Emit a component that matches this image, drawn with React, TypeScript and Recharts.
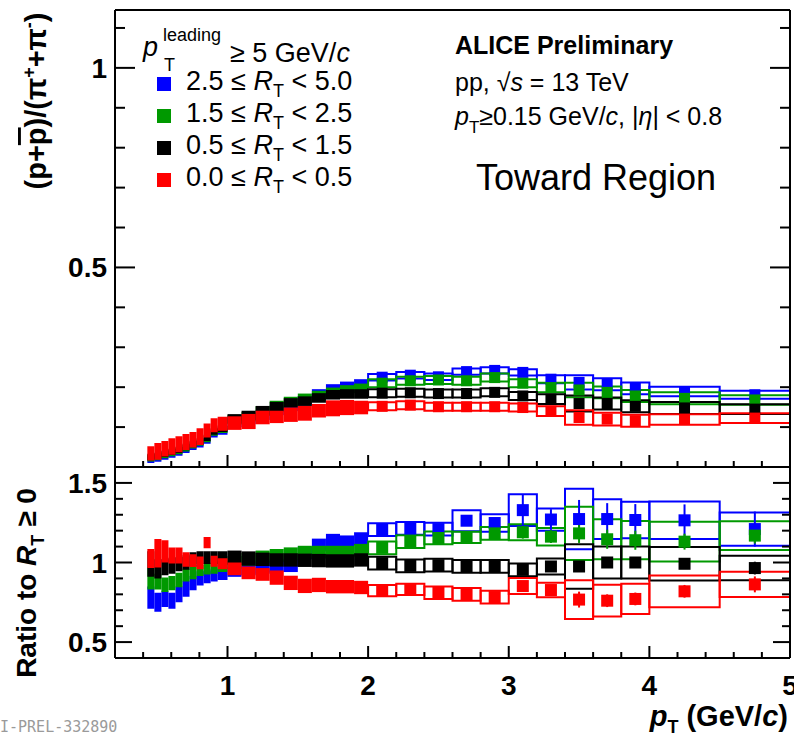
import React from "react";
import { ComposedChart, XAxis, YAxis, Scatter, ErrorBar, ReferenceArea } from "recharts";

// pT bin edges (GeV/c)
const binLow = [0.43, 0.48, 0.53, 0.58, 0.63, 0.68, 0.73, 0.78, 0.83, 0.88, 0.93, 1.0, 1.1, 1.2, 1.3, 1.4, 1.5, 1.6, 1.7, 1.8, 1.9, 2.0, 2.2, 2.4, 2.6, 2.8, 3.0, 3.2, 3.4, 3.6, 3.8, 4.0, 4.5];
const binHigh = [0.48, 0.53, 0.58, 0.63, 0.68, 0.73, 0.78, 0.83, 0.88, 0.93, 1.0, 1.1, 1.2, 1.3, 1.4, 1.5, 1.6, 1.7, 1.8, 1.9, 2.0, 2.2, 2.4, 2.6, 2.8, 3.0, 3.2, 3.4, 3.6, 3.8, 4.0, 4.5, 5.0];

// top panel: (p+pbar)/(pi+ + pi-), value and systematic half-height per bin
const topBlue = [0.018, 0.021, 0.026, 0.031, 0.036, 0.043, 0.0505, 0.057, 0.066, 0.082, 0.089, 0.112, 0.12, 0.13, 0.142, 0.152, 0.166, 0.183, 0.1955, 0.202, 0.208, 0.225, 0.23, 0.226, 0.239, 0.242, 0.237, 0.22, 0.212, 0.2075, 0.197, 0.189, 0.181];
const topBlueSys = [0.008, 0.008, 0.008, 0.008, 0.008, 0.008, 0.008, 0.008, 0.008, 0.008, 0.008, 0.012, 0.012, 0.012, 0.012, 0.012, 0.012, 0.012, 0.012, 0.012, 0.012, 0.008, 0.008, 0.008, 0.008, 0.008, 0.008, 0.01, 0.018, 0.015, 0.015, 0.012, 0.01];
const topGreen = [0.022, 0.025, 0.03, 0.035, 0.04, 0.047, 0.0545, 0.061, 0.07, 0.086, 0.093, 0.118, 0.126, 0.14, 0.154, 0.164, 0.172, 0.179, 0.187, 0.193, 0.197, 0.21, 0.216, 0.218, 0.216, 0.224, 0.21, 0.199, 0.193, 0.187, 0.178, 0.172, 0.168];
const topGreenSys = [0.008, 0.008, 0.008, 0.008, 0.008, 0.008, 0.008, 0.008, 0.008, 0.008, 0.008, 0.012, 0.012, 0.012, 0.012, 0.012, 0.012, 0.012, 0.012, 0.012, 0.012, 0.01, 0.01, 0.01, 0.01, 0.01, 0.01, 0.012, 0.018, 0.015, 0.015, 0.015, 0.012];
const topBlack = [0.025, 0.028, 0.033, 0.038, 0.043, 0.05, 0.0575, 0.064, 0.073, 0.089, 0.096, 0.1205, 0.129, 0.141, 0.151, 0.1605, 0.165, 0.173, 0.181, 0.183, 0.183, 0.185, 0.186, 0.184, 0.184, 0.187, 0.178, 0.17, 0.159, 0.159, 0.152, 0.148, 0.145];
const topBlackSys = [0.008, 0.008, 0.008, 0.008, 0.008, 0.008, 0.008, 0.008, 0.008, 0.008, 0.008, 0.012, 0.012, 0.012, 0.012, 0.012, 0.012, 0.012, 0.012, 0.012, 0.012, 0.01, 0.01, 0.01, 0.01, 0.01, 0.01, 0.012, 0.02, 0.015, 0.015, 0.015, 0.012];
const topRed = [0.034, 0.039, 0.0455, 0.0515, 0.057, 0.0625, 0.0685, 0.076, 0.0915, 0.1045, 0.1085, 0.11, 0.114, 0.124, 0.1255, 0.131, 0.1345, 0.141, 0.147, 0.149, 0.149, 0.152, 0.155, 0.151, 0.151, 0.151, 0.149, 0.14, 0.124, 0.12, 0.116, 0.119, 0.1225];
const topRedSys = [0.018, 0.021, 0.0195, 0.0205, 0.02, 0.02, 0.0195, 0.021, 0.0175, 0.0175, 0.0175, 0.017, 0.019, 0.017, 0.0155, 0.018, 0.0185, 0.017, 0.02, 0.019, 0.017, 0.01, 0.01, 0.01, 0.01, 0.01, 0.01, 0.012, 0.018, 0.016, 0.015, 0.013, 0.012];

// statistical errors, only for the bins from 2 GeV/c on (drawn with markers)
const topBlueStat = [0.002, 0.002, 0.003, 0.003, 0.004, 0.005, 0.006, 0.008, 0.009, 0.01, 0.01, 0.012];
const topGreenStat = [0.002, 0.002, 0.003, 0.003, 0.003, 0.004, 0.005, 0.006, 0.007, 0.008, 0.008, 0.009];
const topBlackStat = [0.001, 0.001, 0.002, 0.002, 0.002, 0.003, 0.003, 0.004, 0.005, 0.005, 0.005, 0.006];
const topRedStat = [0.002, 0.002, 0.002, 0.003, 0.003, 0.004, 0.004, 0.006, 0.006, 0.006, 0.006, 0.007];

// bottom panel: ratio to R_T >= 0
const ratioBlue = [0.78, 0.75, 0.77, 0.76, 0.8, 0.835, 0.87, 0.9, 0.91, 0.92, 0.93, 0.95, 0.96, 0.97, 0.98, 0.98, 1.06, 1.11, 1.14, 1.13, 1.15, 1.206, 1.214, 1.21, 1.2625, 1.248, 1.329, 1.27, 1.273, 1.273, 1.267, 1.265, 1.21];
const ratioBlueSys = [0.07, 0.06, 0.05, 0.05, 0.05, 0.05, 0.045, 0.045, 0.04, 0.04, 0.04, 0.04, 0.04, 0.04, 0.04, 0.04, 0.04, 0.04, 0.04, 0.04, 0.04, 0.04, 0.04, 0.04, 0.066, 0.055, 0.1, 0.07, 0.19, 0.125, 0.115, 0.118, 0.104];
const ratioGreen = [0.9, 0.88, 0.86, 0.87, 0.89, 0.92, 0.935, 0.95, 0.96, 0.965, 0.975, 1.0, 1.02, 1.035, 1.045, 1.055, 1.065, 1.065, 1.065, 1.065, 1.077, 1.092, 1.131, 1.154, 1.158, 1.183, 1.19, 1.1625, 1.183, 1.146, 1.14, 1.131, 1.169];
const ratioGreenSys = [0.07, 0.05, 0.045, 0.045, 0.045, 0.04, 0.04, 0.035, 0.035, 0.035, 0.035, 0.04, 0.04, 0.04, 0.04, 0.04, 0.04, 0.04, 0.04, 0.04, 0.04, 0.04, 0.04, 0.04, 0.035, 0.04, 0.05, 0.055, 0.167, 0.125, 0.12, 0.125, 0.09];
const ratioBlack = [0.99, 0.96, 0.97, 0.98, 0.99, 1.0, 1.02, 1.03, 1.03, 1.03, 1.03, 1.03, 1.025, 1.02, 1.016, 1.016, 1.014, 1.012, 1.01, 1.01, 1.016, 0.996, 0.979, 0.983, 0.975, 0.975, 0.954, 0.975, 0.975, 1.0, 1.0, 0.992, 0.965];
const ratioBlackSys = [0.08, 0.06, 0.05, 0.05, 0.045, 0.045, 0.045, 0.04, 0.04, 0.04, 0.04, 0.045, 0.045, 0.042, 0.042, 0.042, 0.042, 0.042, 0.042, 0.042, 0.042, 0.04, 0.04, 0.04, 0.04, 0.04, 0.04, 0.05, 0.14, 0.1, 0.1, 0.105, 0.077];
const ratioRed = [1.025, 1.058, 1.07, 1.044, 1.044, 1.019, 1.0125, 0.998, 1.125, 1.008, 0.992, 0.96, 0.935, 0.925, 0.905, 0.872, 0.853, 0.859, 0.848, 0.848, 0.843, 0.823, 0.831, 0.81, 0.8, 0.783, 0.852, 0.827, 0.767, 0.76, 0.771, 0.819, 0.8625];
const ratioRedSys = [0.06, 0.09, 0.07, 0.05, 0.05, 0.045, 0.04, 0.04, 0.035, 0.035, 0.035, 0.04, 0.04, 0.04, 0.045, 0.045, 0.045, 0.045, 0.042, 0.042, 0.042, 0.035, 0.035, 0.04, 0.04, 0.04, 0.05, 0.045, 0.122, 0.1, 0.095, 0.1, 0.079];

const ratioBlueStat = [0.01, 0.012, 0.015, 0.02, 0.025, 0.1, 0.065, 0.12, 0.1, 0.1, 0.1, 0.11];
const ratioGreenStat = [0.01, 0.01, 0.012, 0.015, 0.02, 0.04, 0.04, 0.06, 0.06, 0.06, 0.05, 0.05];
const ratioBlackStat = [0.005, 0.005, 0.008, 0.01, 0.01, 0.02, 0.02, 0.03, 0.03, 0.03, 0.03, 0.04];
const ratioRedStat = [0.008, 0.008, 0.01, 0.015, 0.02, 0.03, 0.03, 0.05, 0.04, 0.04, 0.04, 0.05];

// axis ticks
const xTicks = [0.2, 0.4, 0.6, 0.8, 1, 1.2, 1.4, 1.6, 1.8, 2, 2.2, 2.4, 2.6, 2.8, 3, 3.2, 3.4, 3.6, 3.8, 4, 4.2, 4.4, 4.6, 4.8, 5];
const xMajor = [1, 2, 3, 4, 5];
const topYTicks = [0, 0.1, 0.2, 0.3, 0.4, 0.5, 0.6, 0.7, 0.8, 0.9, 1, 1.1];
const topYMajor = [0.5, 1];
const botYTicks = [0.4, 0.5, 0.6, 0.7, 0.8, 0.9, 1, 1.1, 1.2, 1.3, 1.4, 1.5, 1.6];
const botYMajor = [0.5, 1, 1.5];

const FONT = '"Liberation Sans", Arial, Helvetica, sans-serif';

const series = [
  { lo: "2.5", hi: "5.0", color: "#0000ff", top: topBlue, topSys: topBlueSys, topStat: topBlueStat, ratio: ratioBlue, ratioSys: ratioBlueSys, ratioStat: ratioBlueStat },
  { lo: "1.5", hi: "2.5", color: "#009900", top: topGreen, topSys: topGreenSys, topStat: topGreenStat, ratio: ratioGreen, ratioSys: ratioGreenSys, ratioStat: ratioGreenStat },
  { lo: "0.5", hi: "1.5", color: "#000000", top: topBlack, topSys: topBlackSys, topStat: topBlackStat, ratio: ratioBlack, ratioSys: ratioBlackSys, ratioStat: ratioBlackStat },
  { lo: "0.0", hi: "0.5", color: "#ff0000", top: topRed, topSys: topRedSys, topStat: topRedStat, ratio: ratioRed, ratioSys: ratioRedSys, ratioStat: ratioRedStat },
];

// ROOT style ticks: drawn inward from the frame
function AxisTick(props: any) {
  const { x = 0, y = 0, payload, side, majors, majorLen, minorLen, showLabel } = props;
  const v = payload ? payload.value : 0;
  const isMajor = majors.some((m: number) => Math.abs(m - v) < 1e-6);
  const len = isMajor ? majorLen : minorLen;
  const dir: Record<string, number[]> = { bottom: [0, -len], top: [0, len], left: [len, 0], right: [-len, 0] };
  const d = dir[side];
  return (
    <g>
      <line x1={x} y1={y} x2={x + d[0]} y2={y + d[1]} stroke="#000" strokeWidth={2} />
      {showLabel && isMajor && side === "bottom" && (
        <text x={x} y={y + 37} textAnchor="middle" fontFamily={FONT} fontWeight="bold" fontSize={28} fill="#000">
          {String(v)}
        </text>
      )}
      {showLabel && isMajor && side === "left" && (
        <text x={x - 8} y={y + 10} textAnchor="end" fontFamily={FONT} fontWeight="bold" fontSize={28} fill="#000">
          {String(v)}
        </text>
      )}
    </g>
  );
}

const frame = { stroke: "#000", strokeWidth: 2 };

function axes(yDomain: number[], yTicks: number[], yMajor: number[], yMajorLen: number, yMinorLen: number, xLabels: boolean, bottomHeight: number) {
  return [
    <XAxis key="x" xAxisId="x" dataKey="x" type="number" domain={[0.2, 5]} allowDataOverflow ticks={xTicks} interval={0} height={bottomHeight} tickSize={0} tickMargin={0} tickLine={false} axisLine={frame}
      tick={<AxisTick side="bottom" majors={xMajor} majorLen={12} minorLen={6} showLabel={xLabels} />} />,
    <XAxis key="xt" xAxisId="xt" orientation="top" type="number" domain={[0.2, 5]} allowDataOverflow ticks={xTicks} interval={0} height={10} tickSize={0} tickMargin={0} tickLine={false} axisLine={frame}
      tick={<AxisTick side="top" majors={xMajor} majorLen={12} minorLen={6} />} />,
    <YAxis key="y" yAxisId="y" dataKey="y" type="number" domain={yDomain} allowDataOverflow ticks={yTicks} interval={0} width={115} tickSize={0} tickMargin={0} tickLine={false} axisLine={frame}
      tick={<AxisTick side="left" majors={yMajor} majorLen={yMajorLen} minorLen={yMinorLen} showLabel />} />,
    <YAxis key="yr" yAxisId="yr" orientation="right" type="number" domain={yDomain} allowDataOverflow ticks={yTicks} interval={0} width={4} tickSize={0} tickMargin={0} tickLine={false} axisLine={frame}
      tick={<AxisTick side="right" majors={yMajor} majorLen={yMajorLen} minorLen={yMinorLen} />} />,
  ];
}

// systematic boxes: filled below 2 GeV/c, open above
function boxes(vals: number[], sys: number[], color: string, key: string) {
  return binLow.map((lo, i) => {
    const open = lo >= 2;
    return (
      <ReferenceArea key={`${key}-${i}`} xAxisId="x" yAxisId="y" x1={lo} x2={binHigh[i]} y1={vals[i] - sys[i]} y2={vals[i] + sys[i]}
        fill={open ? "none" : color} fillOpacity={1} stroke={open ? color : "none"} strokeWidth={2} ifOverflow="visible" />
    );
  });
}

function points(vals: number[], stat: number[], color: string, key: string, size: number) {
  const data: { x: number; y: number; err: number }[] = [];
  binLow.forEach((lo, i) => {
    if (lo >= 2) data.push({ x: (lo + binHigh[i]) / 2, y: vals[i], err: stat[data.length] });
  });
  return (
    <Scatter key={key} xAxisId="x" yAxisId="y" data={data} dataKey="y" isAnimationActive={false}
      shape={(p: any) => <rect x={p.cx - size / 2} y={p.cy - size / 2} width={size} height={size} fill={color} />}>
      <ErrorBar dataKey="err" direction="y" width={0} stroke={color} strokeWidth={2} isAnimationActive={false} />
    </Scatter>
  );
}

export default function App() {
  return (
    <div style={{ position: "absolute", left: 0, top: 0, width: 794, height: 737, background: "#fff", overflow: "hidden" }}>
      <div style={{ position: "absolute", left: 0, top: 0 }}>
        <ComposedChart width={794} height={470} margin={{ top: 0, right: 0, bottom: 0, left: 0 }}>
          {axes([0, 1.145], topYTicks, topYMajor, 20, 10, false, 3)}
          {series.map((s, k) => boxes(s.top, s.topSys, s.color, `tb${k}`))}
          {series.map((s, k) => points(s.top, s.topStat, s.color, `tp${k}`, 11))}
        </ComposedChart>
      </div>
      <div style={{ position: "absolute", left: 0, top: 457 }}>
        <ComposedChart width={794} height={280} margin={{ top: 0, right: 0, bottom: 0, left: 0 }}>
          {axes([0.4, 1.6], botYTicks, botYMajor, 17, 8, true, 79)}
          {series.map((s, k) => boxes(s.ratio, s.ratioSys, s.color, `rb${k}`))}
          {series.map((s, k) => points(s.ratio, s.ratioStat, s.color, `rp${k}`, 12))}
        </ComposedChart>
      </div>
      <svg width={794} height={737} style={{ position: "absolute", left: 0, top: 0, pointerEvents: "none" }} fontFamily={FONT}>
        <text transform="translate(46,101) rotate(-90)" textAnchor="middle" fontWeight="bold" fontSize={29}>
          (p+<tspan style={{ textDecoration: "overline" }}>p</tspan>)/(π<tspan dy={-11} fontSize={18}>+</tspan>
          <tspan dy={11}>+π</tspan><tspan dy={-11} fontSize={18}>-</tspan><tspan dy={11}>)</tspan>
        </text>
        <text transform="translate(36,583) rotate(-90)" textAnchor="middle" fontWeight="bold" fontSize={28}>
          Ratio to <tspan fontStyle="italic">R</tspan><tspan dy={8} fontSize={18}>T</tspan><tspan dy={-8}>  ≥ 0</tspan>
        </text>
        <text x={788} y={726} textAnchor="end" fontWeight="bold" fontSize={29}>
          <tspan fontStyle="italic">p</tspan><tspan dy={7} fontSize={18}>T</tspan><tspan dy={-7}> (GeV/</tspan><tspan fontStyle="italic">c</tspan>)
        </text>

        <text x={143} y={56} fontSize={27} fontStyle="italic">p</text>
        <text x={163} y={41} fontSize={18}>leading</text>
        <text x={164} y={71} fontSize={18}>T</text>
        <text x={230} y={62} fontSize={27}>≥ 5 GeV/<tspan fontStyle="italic">c</tspan></text>
        {series.map((s, i) => (
          <g key={s.lo}>
            <rect x={157} y={77 + 32 * i} width={14} height={14} fill={s.color} />
            <text x={186} y={90 + 32 * i} fontSize={27}>
              {s.lo} ≤ <tspan fontStyle="italic">R</tspan><tspan dy={7} fontSize={18}>T</tspan><tspan dy={-7}> &lt; {s.hi}</tspan>
            </text>
          </g>
        ))}

        <text x={455} y={54} fontSize={25} fontWeight="bold">ALICE Preliminary</text>
        <text x={455} y={91} fontSize={25}>pp, √<tspan fontStyle="italic">s</tspan> = 13 TeV</text>
        <text x={455} y={125} fontSize={25}>
          <tspan fontStyle="italic">p</tspan><tspan dy={8} fontSize={17}>T</tspan><tspan dy={-8}>≥0.15 GeV/</tspan><tspan fontStyle="italic">c</tspan>, |<tspan fontStyle="italic">η</tspan>| &lt; 0.8
        </text>
        <text x={476} y={190} fontSize={36}>Toward Region</text>

        <text x={0} y={732} fontSize={15} fill="#9a9a9a" fontFamily='"DejaVu Sans Mono", monospace'>I-PREL-332890</text>
      </svg>
    </div>
  );
}
